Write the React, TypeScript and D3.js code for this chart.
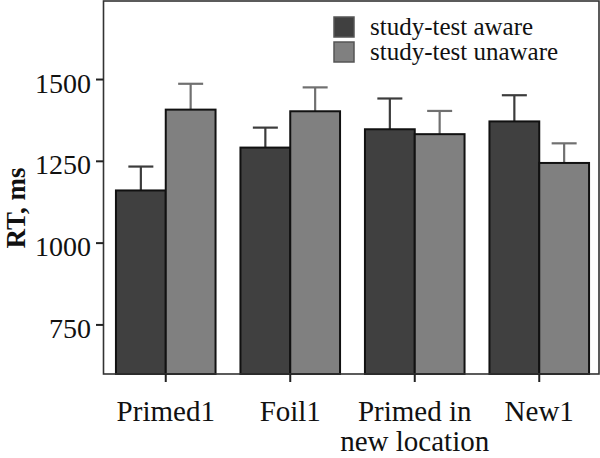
import React from "react";
import * as d3 from "d3";

const categories = ["Primed1", "Foil1", "Primed in\nnew location", "New1"];
const seriesNames = ["study-test aware", "study-test unaware"];
const awareMeans = [1161, 1292, 1348, 1372];
const awareUpper = [1234, 1353, 1442, 1452];
const unawareMeans = [1408, 1403, 1333, 1245];
const unawareUpper = [1487, 1476, 1404, 1305];
const yTicks = [750, 1000, 1250, 1500];

const W = 600;
const H = 458;
const FONT = "'Liberation Serif', 'Times New Roman', serif";
const fills = ["#404040", "#808080"];
const errColors = ["#3c3c3c", "#707070"];

export default function App() {
  const left = 103.5;
  const right = 599;
  const top = 1;
  const bottom = 374;

  const x = d3
    .scaleBand<string>()
    .domain(categories)
    .range([left, left + 498])
    .paddingInner(0.2)
    .paddingOuter(0.1);
  const xs = d3
    .scaleBand<string>()
    .domain(seriesNames)
    .range([0, x.bandwidth()]);
  const y = d3.scaleLinear().domain([600, 1740]).range([bottom, top]);

  const series = [
    { name: seriesNames[0], means: awareMeans, upper: awareUpper },
    { name: seriesNames[1], means: unawareMeans, upper: unawareUpper },
  ];

  const capW = 25;

  return (
    <svg
      width={W}
      height={H}
      style={{ position: "absolute", left: 0, top: 0, background: "#fff" }}
      fontFamily={FONT}
    >
      {/* error bars */}
      {series.map((s, si) =>
        categories.map((c, ci) => {
          const cx = (x(c) as number) + (xs(s.name) as number) + xs.bandwidth() / 2;
          return (
            <g key={`e-${si}-${ci}`} stroke={errColors[si]} strokeWidth={2.2}>
              <line x1={cx} x2={cx} y1={y(s.means[ci])} y2={y(s.upper[ci])} />
              <line
                x1={cx - capW / 2}
                x2={cx + capW / 2}
                y1={y(s.upper[ci])}
                y2={y(s.upper[ci])}
              />
            </g>
          );
        })
      )}
      {/* bars */}
      {series.map((s, si) =>
        categories.map((c, ci) => {
          const bx = (x(c) as number) + (xs(s.name) as number);
          return (
            <rect
              key={`b-${si}-${ci}`}
              x={bx}
              y={y(s.means[ci])}
              width={xs.bandwidth()}
              height={bottom - y(s.means[ci])}
              fill={fills[si]}
              stroke="#111"
              strokeWidth={2}
            />
          );
        })
      )}
      {/* panel border */}
      <rect
        x={left}
        y={top}
        width={right - left}
        height={bottom - top}
        fill="none"
        stroke="#333"
        strokeWidth={1.6}
      />
      {/* y axis */}
      {yTicks.map((t) => (
        <g key={`yt-${t}`}>
          <line x1={96} x2={left} y1={y(t)} y2={y(t)} stroke="#222" strokeWidth={2} />
          <text
            x={91}
            y={y(t) + 13}
            textAnchor="end"
            fontSize={28}
            fill="#111"
          >
            {t}
          </text>
        </g>
      ))}
      <text
        transform={`translate(25,208) rotate(-90)`}
        textAnchor="middle"
        fontSize={27}
        fontWeight="bold"
        fill="#111"
      >
        RT, ms
      </text>
      {/* x axis */}
      {categories.map((c) => {
        const cx = (x(c) as number) + x.bandwidth() / 2;
        const lines = c.split("\n");
        return (
          <g key={`xt-${c}`}>
            <line x1={cx} x2={cx} y1={bottom} y2={382} stroke="#222" strokeWidth={2} />
            {lines.map((ln, li) => (
              <text
                key={li}
                x={cx}
                y={421 + li * 30}
                textAnchor="middle"
                fontSize={29}
                fill="#111"
              >
                {ln}
              </text>
            ))}
          </g>
        );
      })}
      {/* legend */}
      {seriesNames.map((n, i) => (
        <g key={`lg-${n}`}>
          <rect
            x={334}
            y={17 + i * 25}
            width={20}
            height={20}
            fill={fills[i]}
            stroke="#555"
            strokeWidth={1.5}
          />
          <text x={370} y={34.5 + i * 25} fontSize={25} fill="#111">
            {n}
          </text>
        </g>
      ))}
    </svg>
  );
}
